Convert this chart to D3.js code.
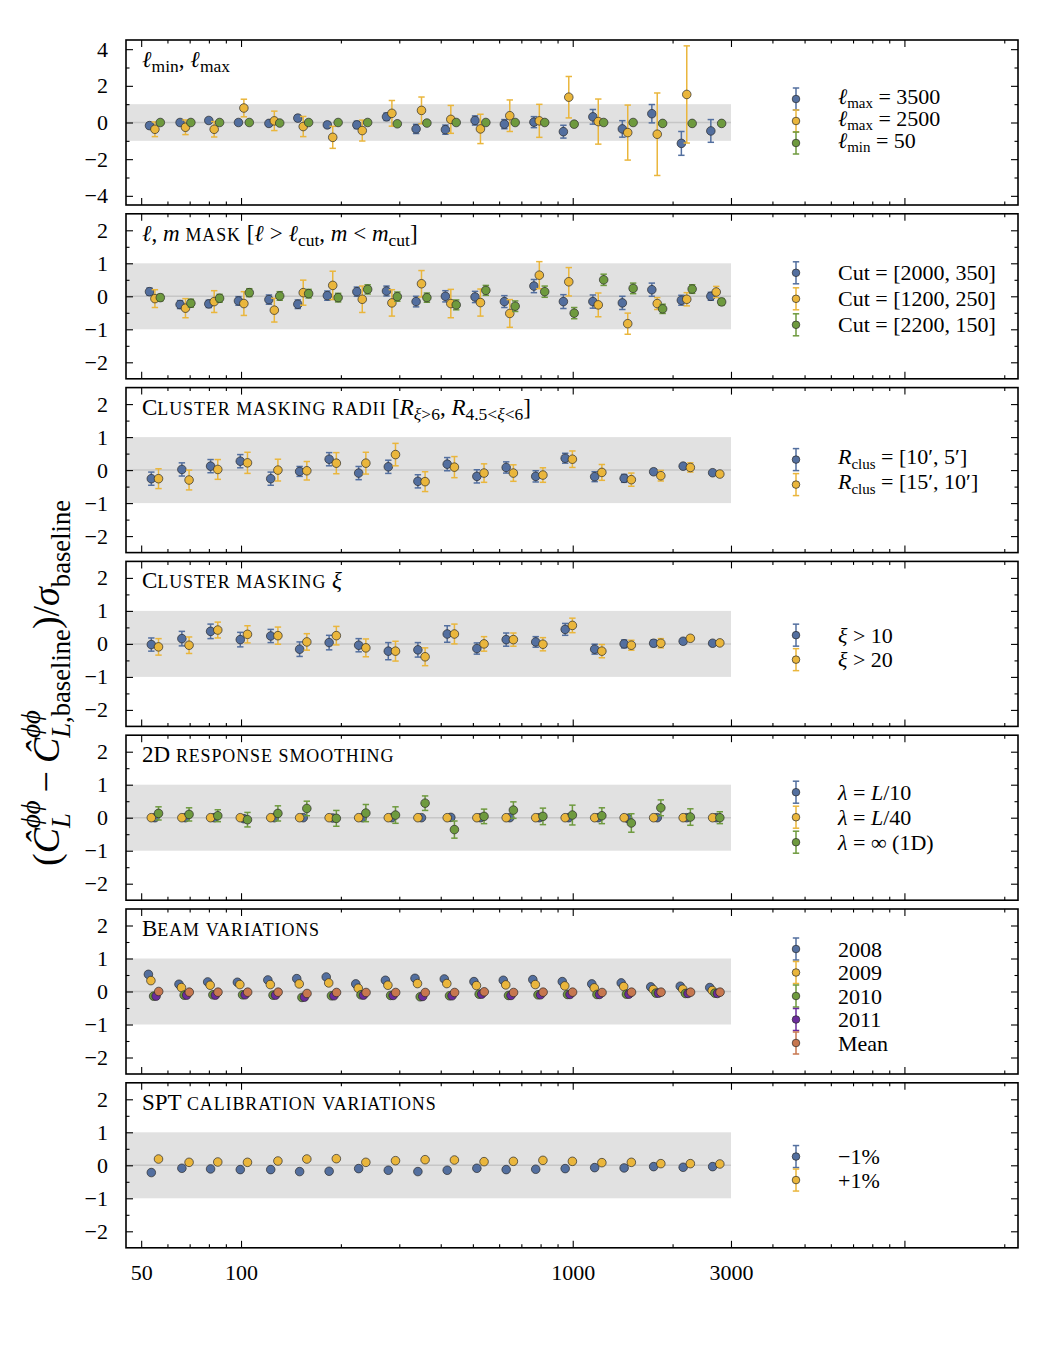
<!DOCTYPE html>
<html>
<head>
<meta charset="utf-8">
<script src="https://cdnjs.cloudflare.com/ajax/libs/d3/7.8.5/d3.min.js"></script>
<style>
    body { margin: 0; background: #fff; }
    text { font-family: "Liberation Serif", "Times New Roman", "DejaVu Serif", serif; fill: #000; }
</style>
</head>
<body>
<div id="chart"></div>
<script>
// bin centres (geometric) of the 20 log bins between L = 50 and 3000
const ellCenters = [55, 68, 83, 102, 126, 154, 189, 232, 285, 350, 429, 527, 646, 793, 973, 1194, 1465, 1798, 2207, 2708];

const xMajorTicks = [50, 100, 1000, 3000, 10000];
const xTickLabels = ['50', '100', '1000', '3000', ''];
const xMinorTicks = [60, 70, 80, 90, 200, 300, 400, 500, 600, 700, 800, 900, 2000, 4000, 5000, 6000, 7000, 8000, 9000, 20000];
const yMajorWide = [-4, -2, 0, 2, 4];
const yMinorWide = [-3, -1, 1, 3];
const yMajorNarrow = [-2, -1, 0, 1, 2];
const yMinorNarrow = [-1.5, -0.5, 0.5, 1.5];

// l_min, l_max
const lmax3500 = [-0.17, 0.00, 0.11, 0.00, -0.05, 0.24, -0.13, -0.13, 0.31, -0.35, -0.39, 0.11, -0.09, 0.02, -0.50, 0.31, -0.35, 0.48, -1.14, -0.46];
const lmax3500Err = [0.15, 0.15, 0.12, 0.13, 0.12, 0.15, 0.15, 0.20, 0.20, 0.25, 0.25, 0.25, 0.25, 0.30, 0.35, 0.40, 0.45, 0.50, 0.65, 0.62];
const lmax2500 = [-0.37, -0.26, -0.37, 0.79, 0.09, -0.22, -0.81, -0.44, 0.50, 0.66, 0.17, -0.35, 0.37, 0.09, 1.38, 0.05, -0.55, -0.64, 1.53, null];
const lmax2500Err = [0.40, 0.40, 0.42, 0.48, 0.53, 0.55, 0.60, 0.57, 0.70, 0.73, 0.76, 0.80, 0.86, 0.90, 1.13, 1.23, 1.50, 2.25, 2.65, null];
const lmin50 = [0.00, 0.00, 0.00, 0.00, -0.03, 0.00, 0.00, 0.00, -0.07, -0.03, 0.00, 0.00, 0.00, 0.00, -0.09, 0.00, 0.00, -0.05, -0.05, -0.05];
const lmin50Err = [0.02, 0.02, 0.02, 0.02, 0.02, 0.02, 0.02, 0.02, 0.02, 0.02, 0.02, 0.02, 0.02, 0.02, 0.02, 0.02, 0.02, 0.02, 0.02, 0.02];

// l,m mask
const cut2000 = [0.14, -0.25, -0.23, -0.14, -0.10, -0.24, 0.02, 0.14, 0.16, -0.16, 0.00, -0.02, -0.16, 0.31, -0.16, -0.16, -0.20, 0.20, -0.12, 0.00];
const cut2000Err = [0.11, 0.12, 0.11, 0.13, 0.14, 0.13, 0.14, 0.14, 0.15, 0.16, 0.17, 0.17, 0.18, 0.20, 0.21, 0.20, 0.20, 0.20, 0.15, 0.12];
const cut1200 = [-0.07, -0.36, -0.16, -0.22, -0.42, 0.11, 0.33, -0.09, -0.20, 0.38, -0.22, -0.19, -0.52, 0.64, 0.44, -0.26, -0.83, -0.22, -0.09, 0.13];
const cut1200Err = [0.27, 0.29, 0.33, 0.36, 0.36, 0.38, 0.43, 0.40, 0.40, 0.40, 0.43, 0.41, 0.42, 0.41, 0.43, 0.36, 0.32, 0.18, 0.20, 0.17];
const cut2200 = [-0.04, -0.21, -0.06, 0.11, 0.01, 0.08, -0.04, 0.21, -0.01, -0.04, -0.26, 0.18, -0.30, 0.14, -0.51, 0.50, 0.24, -0.38, 0.22, -0.17];
const cut2200Err = [0.10, 0.12, 0.12, 0.12, 0.13, 0.13, 0.13, 0.14, 0.14, 0.14, 0.15, 0.15, 0.16, 0.17, 0.17, 0.17, 0.16, 0.14, 0.13, 0.10];

// cluster masking radii
const rclus10 = [-0.26, 0.02, 0.12, 0.27, -0.26, -0.04, 0.33, -0.09, 0.10, -0.34, 0.18, -0.19, 0.08, -0.19, 0.36, -0.20, -0.25, -0.05, 0.12, -0.08];
const rclus10Err = [0.20, 0.20, 0.20, 0.20, 0.20, 0.15, 0.20, 0.20, 0.20, 0.20, 0.20, 0.20, 0.17, 0.17, 0.15, 0.15, 0.12, 0.08, 0.06, 0.04];
const rclus15 = [-0.26, -0.30, 0.02, 0.22, 0.00, -0.02, 0.21, 0.21, 0.47, -0.35, 0.09, -0.09, -0.09, -0.15, 0.33, -0.07, -0.29, -0.17, 0.08, -0.12];
const rclus15Err = [0.30, 0.30, 0.30, 0.32, 0.33, 0.28, 0.32, 0.33, 0.34, 0.30, 0.32, 0.28, 0.25, 0.22, 0.25, 0.24, 0.20, 0.16, 0.14, 0.08];

// cluster masking xi
const xi10 = [-0.02, 0.16, 0.38, 0.13, 0.24, -0.16, 0.04, -0.04, -0.22, -0.18, 0.30, -0.14, 0.13, 0.06, 0.44, -0.16, 0.00, 0.02, 0.08, 0.02];
const xi10Err = [0.20, 0.22, 0.22, 0.22, 0.20, 0.22, 0.22, 0.20, 0.26, 0.22, 0.25, 0.17, 0.20, 0.16, 0.18, 0.15, 0.12, 0.10, 0.08, 0.04];
const xi20 = [-0.09, -0.04, 0.42, 0.29, 0.25, 0.06, 0.25, -0.12, -0.22, -0.39, 0.30, 0.00, 0.13, -0.01, 0.56, -0.22, -0.04, 0.02, 0.17, 0.03];
const xi20Err = [0.25, 0.25, 0.24, 0.26, 0.26, 0.25, 0.28, 0.27, 0.30, 0.27, 0.30, 0.22, 0.20, 0.20, 0.22, 0.20, 0.15, 0.14, 0.08, 0.05];

// 2D response smoothing
const lambda10 = [0.00, 0.00, 0.00, -0.03, 0.00, 0.00, -0.01, 0.00, 0.00, 0.00, 0.01, 0.00, 0.00, 0.00, 0.00, 0.00, -0.02, 0.00, 0.00, 0.00];
const lambda40 = [0.00, 0.00, 0.00, 0.00, 0.00, 0.00, 0.00, 0.00, 0.00, 0.00, 0.00, 0.00, 0.00, 0.00, 0.00, 0.00, 0.00, 0.00, 0.00, 0.00];
const lambdaInf = [0.13, 0.10, 0.06, -0.06, 0.13, 0.28, -0.02, 0.14, 0.08, 0.44, -0.36, 0.04, 0.23, 0.04, 0.08, 0.06, -0.16, 0.30, 0.02, 0.00];
const lambdaInfErr = [0.20, 0.20, 0.18, 0.22, 0.23, 0.22, 0.24, 0.26, 0.25, 0.22, 0.26, 0.22, 0.25, 0.25, 0.30, 0.24, 0.28, 0.24, 0.25, 0.18];

// beam variations
const beam2008 = [0.52, 0.22, 0.29, 0.28, 0.35, 0.39, 0.44, 0.23, 0.34, 0.40, 0.38, 0.30, 0.34, 0.36, 0.30, 0.23, 0.26, 0.14, 0.16, 0.12];
const beam2009 = [0.33, 0.12, 0.19, 0.21, 0.21, 0.23, 0.26, 0.10, 0.19, 0.24, 0.24, 0.18, 0.20, 0.21, 0.17, 0.11, 0.15, 0.06, 0.07, 0.03];
const beam2010 = [-0.14, -0.11, -0.10, -0.10, -0.11, -0.18, -0.13, -0.10, -0.12, -0.16, -0.13, -0.08, -0.12, -0.10, -0.09, -0.09, -0.08, -0.05, -0.06, -0.05];
const beam2011 = [-0.14, -0.11, -0.11, -0.10, -0.11, -0.17, -0.13, -0.11, -0.12, -0.15, -0.13, -0.08, -0.12, -0.10, -0.09, -0.09, -0.08, -0.05, -0.06, -0.06];
const beamMean = [0.00, -0.02, -0.02, -0.02, -0.02, -0.06, -0.03, -0.03, -0.03, -0.03, -0.03, -0.01, -0.03, -0.02, -0.02, -0.03, -0.02, -0.02, -0.02, -0.02];

// SPT calibration
const calMinus1 = [-0.22, -0.09, -0.11, -0.13, -0.13, -0.19, -0.18, -0.10, -0.15, -0.19, -0.15, -0.09, -0.13, -0.12, -0.10, -0.07, -0.08, -0.04, -0.06, -0.04];
const calPlus1 = [0.19, 0.09, 0.10, 0.09, 0.13, 0.19, 0.20, 0.09, 0.14, 0.17, 0.16, 0.11, 0.12, 0.15, 0.12, 0.08, 0.09, 0.05, 0.05, 0.04];

const colBlue = '#536f9f',
    colOrange = '#eab63c',
    colGreen = '#6e9a3e',
    colPurple = '#6b2c9c',
    colMean = '#c7774f';

const panels = [
    {title: '*ℓ*_{min}, *ℓ*_{max}', sc: false, wide: true, offsets: [-5.4, 0, 5.4], legendStep: 22, legendMid: 81,
        series: [
            {label: '*ℓ*_{max} = 3500', values: lmax3500, errors: lmax3500Err, color: colBlue},
            {label: '*ℓ*_{max} = 2500', values: lmax2500, errors: lmax2500Err, color: colOrange},
            {label: '*ℓ*_{min} = 50', values: lmin50, errors: lmin50Err, color: colGreen}
        ]},
    {title: '*ℓ*, *m* mask [*ℓ* > *ℓ*_{cut}, *m* < *m*_{cut}]', sc: true, offsets: [-5.4, 0, 5.4], legendStep: 26, legendMid: 85,
        series: [
            {label: 'Cut = [2000, 350]', values: cut2000, errors: cut2000Err, color: colBlue},
            {label: 'Cut = [1200, 250]', values: cut1200, errors: cut1200Err, color: colOrange},
            {label: 'Cut = [2200, 150]', values: cut2200, errors: cut2200Err, color: colGreen}
        ]},
    {title: 'Cluster masking radii [*R*_{*ξ*>6}, *R*_{4.5<*ξ*<6}]', sc: true, offsets: [-3.6, 3.6], legendStep: 25, legendMid: 84.5,
        series: [
            {label: '*R*_{clus} = [10′, 5′]', values: rclus10, errors: rclus10Err, color: colBlue},
            {label: '*R*_{clus} = [15′, 10′]', values: rclus15, errors: rclus15Err, color: colOrange}
        ]},
    {title: 'Cluster masking *ξ*', sc: true, offsets: [-3.6, 3.6], legendStep: 24.5, legendMid: 86,
        series: [
            {label: '*ξ* > 10', values: xi10, errors: xi10Err, color: colBlue},
            {label: '*ξ* > 20', values: xi20, errors: xi20Err, color: colOrange}
        ]},
    {title: '2D response smoothing', sc: true, offsets: [0, -3.6, 3.6], legendStep: 25, legendMid: 82,
        series: [
            {label: '*λ* = *L*/10', values: lambda10, errors: null, color: colBlue},
            {label: '*λ* = *L*/40', values: lambda40, errors: null, color: colOrange},
            {label: '*λ* = ∞ (1D)', values: lambdaInf, errors: lambdaInfErr, color: colGreen}
        ]},
    {title: 'Beam variations', sc: true, offsets: [-6.5, -4, -1.3, 1.2, 3.8], legendStep: 23.5, legendMid: 87,
        series: [
            {label: '2008', values: beam2008, errors: null, color: colBlue},
            {label: '2009', values: beam2009, errors: null, color: colOrange},
            {label: '2010', values: beam2010, errors: null, color: colGreen},
            {label: '2011', values: beam2011, errors: null, color: colPurple},
            {label: 'Mean', values: beamMean, errors: null, color: colMean}
        ]},
    {title: 'SPT calibration variations', sc: true, offsets: [-3.6, 3.6], legendStep: 23.5, legendMid: 85.5,
        series: [
            {label: '−1%', values: calMinus1, errors: null, color: colBlue},
            {label: '+1%', values: calPlus1, errors: null, color: colOrange}
        ]}
];

const width = 1050,
    height = 1350,
    plotLeft = 126,
    plotRight = 1018,
    panelTop = 40,
    panelHeight = 165,
    panelPitch = 173.8,
    dotRadius = 4.3,
    capHalf = 3.2;

const svg = d3.select('#chart').append('svg')
    .attr('width', width)
    .attr('height', height);

const x = d3.scaleLog().domain([45, 22000]).range([plotLeft, plotRight]);

// tiny markup: *...* italic, _{...} subscript; small caps drawn as shrunken capitals
function richText(sel, str, size, smallCaps, subScale) {
    subScale = subScale || 0.7;
    let parts = [], buf = '', italic = false, sub = false;
    const flush = () => {
        if (buf) parts.push({t: buf, it: italic, sub: sub});
        buf = '';
    };
    for (let i = 0; i < str.length; i++) {
        const c = str[i];
        if (c === '*') { flush(); italic = !italic; }
        else if (c === '_' && str[i + 1] === '{') { flush(); sub = true; i++; }
        else if (c === '}' && sub) { flush(); sub = false; }
        else buf += c;
    }
    flush();
    let cur = 0;
    parts.forEach((p) => {
        const target = p.sub ? size * 0.22 : 0;
        let runs = [{t: p.t, small: false}];
        if (smallCaps && !p.it && !p.sub) {
            runs = p.t.split(/([a-z]+)/).filter((r) => r.length)
                .map((r) => ({t: /[a-z]/.test(r) ? r.toUpperCase() : r, small: /[a-z]/.test(r)}));
        }
        runs.forEach((r) => {
            sel.append('tspan')
                .attr('dy', target - cur)
                .attr('font-size', p.sub ? size * subScale : (r.small ? size * 0.78 : size))
                .attr('letter-spacing', r.small ? 0.9 : null)
                .attr('font-style', p.it ? 'italic' : 'normal')
                .text(r.t);
            cur = target;
        });
    });
}

function styleAxis(sel) {
    sel.select('.domain').remove();
    sel.selectAll('.tick line').attr('stroke', '#000').attr('stroke-width', 1.1);
    sel.selectAll('.tick text')
        .attr('font-size', 22)
        .attr('font-family', '"Liberation Serif", "Times New Roman", serif')
        .attr('fill', '#000');
}

panels.forEach((p, k) => {
    const top = panelTop + k * panelPitch,
        bottom = top + panelHeight,
        last = k === panels.length - 1;
    const y = d3.scaleLinear()
        .domain(p.wide ? [-4.5, 4.5] : [-2.5, 2.5])
        .range([bottom, top]);
    const g = svg.append('g').attr('class', 'panel');

    // +-1 sigma band and zero line
    g.append('rect')
        .attr('x', plotLeft)
        .attr('y', y(1))
        .attr('width', x(3000) - plotLeft)
        .attr('height', y(-1) - y(1))
        .attr('fill', '#e1e1e1');
    g.append('line')
        .attr('x1', plotLeft).attr('x2', x(3000))
        .attr('y1', y(0)).attr('y2', y(0))
        .attr('stroke', '#c6c6c6')
        .attr('stroke-width', 1.5);

    // axes: ticks point inwards on all four sides
    const yMaj = p.wide ? yMajorWide : yMajorNarrow,
        yMin = p.wide ? yMinorWide : yMinorNarrow;
    g.append('g').attr('transform', `translate(${plotLeft},0)`)
        .call(d3.axisLeft(y).tickValues(yMaj).tickSize(-7).tickPadding(18).tickFormat(d3.format('d')))
        .call(styleAxis);
    g.append('g').attr('transform', `translate(${plotLeft},0)`)
        .call(d3.axisLeft(y).tickValues(yMin).tickSize(-3.5).tickFormat(''))
        .call(styleAxis);
    g.append('g').attr('transform', `translate(${plotRight},0)`)
        .call(d3.axisRight(y).tickValues(yMaj).tickSize(-7).tickFormat(''))
        .call(styleAxis);
    g.append('g').attr('transform', `translate(${plotRight},0)`)
        .call(d3.axisRight(y).tickValues(yMin).tickSize(-3.5).tickFormat(''))
        .call(styleAxis);
    g.append('g').attr('transform', `translate(0,${bottom})`)
        .call(d3.axisBottom(x).tickValues(xMajorTicks).tickSize(-7).tickPadding(17)
            .tickFormat((d, i) => last ? xTickLabels[i] : ''))
        .call(styleAxis);
    g.append('g').attr('transform', `translate(0,${bottom})`)
        .call(d3.axisBottom(x).tickValues(xMinorTicks).tickSize(-3.5).tickFormat(''))
        .call(styleAxis);
    g.append('g').attr('transform', `translate(0,${top})`)
        .call(d3.axisTop(x).tickValues(xMajorTicks).tickSize(-7).tickFormat(''))
        .call(styleAxis);
    g.append('g').attr('transform', `translate(0,${top})`)
        .call(d3.axisTop(x).tickValues(xMinorTicks).tickSize(-3.5).tickFormat(''))
        .call(styleAxis);

    // points with error bars
    p.series.forEach((s, j) => {
        const pts = s.values.map((v, i) => ({
            cx: x(ellCenters[i]) + p.offsets[j],
            v: v,
            e: s.errors ? s.errors[i] : 0
        })).filter((d) => d.v !== null);
        const sg = g.append('g');
        const withErr = pts.filter((d) => d.e > 0);
        sg.selectAll('line.bar').data(withErr).enter().append('line')
            .attr('x1', (d) => d.cx).attr('x2', (d) => d.cx)
            .attr('y1', (d) => y(d.v - d.e)).attr('y2', (d) => y(d.v + d.e))
            .attr('stroke', s.color).attr('stroke-width', 1.5);
        [-1, 1].forEach((sign) => {
            sg.selectAll(null).data(withErr).enter().append('line')
                .attr('x1', (d) => d.cx - capHalf).attr('x2', (d) => d.cx + capHalf)
                .attr('y1', (d) => y(d.v + sign * d.e)).attr('y2', (d) => y(d.v + sign * d.e))
                .attr('stroke', s.color).attr('stroke-width', 1.5);
        });
        sg.selectAll('circle').data(pts).enter().append('circle')
            .attr('cx', (d) => d.cx)
            .attr('cy', (d) => y(d.v))
            .attr('r', dotRadius)
            .attr('fill', s.color)
            .attr('stroke', '#2a2a2a')
            .attr('stroke-width', 0.7);
    });

    // frame
    g.append('rect')
        .attr('x', plotLeft).attr('y', top)
        .attr('width', plotRight - plotLeft).attr('height', panelHeight)
        .attr('fill', 'none').attr('stroke', '#000').attr('stroke-width', 1.6);

    // panel title
    const title = g.append('text').attr('x', 142).attr('y', top + 27);
    richText(title, p.title, 23, p.sc, 0.76);

    // legend
    const n = p.series.length,
        legTop = top + p.legendMid - (n - 1) * p.legendStep / 2;
    p.series.forEach((s, j) => {
        const ly = legTop + j * p.legendStep,
            lg = g.append('g').attr('transform', `translate(796,${ly})`);
        lg.append('line').attr('y1', -11).attr('y2', 11)
            .attr('stroke', s.color).attr('stroke-width', 1.5);
        [-11, 11].forEach((cy) => {
            lg.append('line').attr('x1', -capHalf).attr('x2', capHalf).attr('y1', cy).attr('y2', cy)
                .attr('stroke', s.color).attr('stroke-width', 1.5);
        });
        lg.append('circle').attr('r', 3.8)
            .attr('fill', s.color).attr('stroke', '#2a2a2a').attr('stroke-width', 0.7);
        const t = lg.append('text').attr('x', 42).attr('y', s.label.includes('_{') ? 4.5 : 7.5);
        richText(t, s.label, 22, false, 0.68);
    });
});

// y label, rotated, with stacked super/subscripts
(function yLabel() {
    const fs = 38;
    const t = svg.append('text')
        .attr('transform', 'translate(59,683) rotate(-90)')
        .attr('text-anchor', 'middle')
        .attr('font-size', fs);
    let cur = 0;
    function part(str, opt) {
        opt = opt || {};
        const small = opt.sub || opt.sup;
        const target = opt.sub ? fs * 0.28 : (opt.sup ? -fs * 0.5 : 0);
        const ts = t.append('tspan')
            .attr('font-size', small ? fs * 0.7 : fs)
            .attr('font-style', opt.it ? 'italic' : 'normal')
            .attr('dy', target - cur)
            .text(str);
        if (opt.dx) ts.attr('dx', opt.dx);
        cur = target;
        return ts.node().getComputedTextLength();
    }
    part('(');
    part('Ĉ', {it: true});
    let w1 = part('ϕϕ', {sup: true, it: true});
    let w2 = part('L', {sub: true, it: true, dx: -w1});
    part('−', {dx: Math.max(0, w1 - w2) + 8});
    part('Ĉ', {it: true, dx: 8});
    w1 = part('ϕϕ', {sup: true, it: true});
    part('L', {sub: true, it: true, dx: -w1});
    part(',baseline', {sub: true});
    part(')/');
    part('σ', {it: true});
    part('baseline', {sub: true});
})();
</script>
</body>
</html>
